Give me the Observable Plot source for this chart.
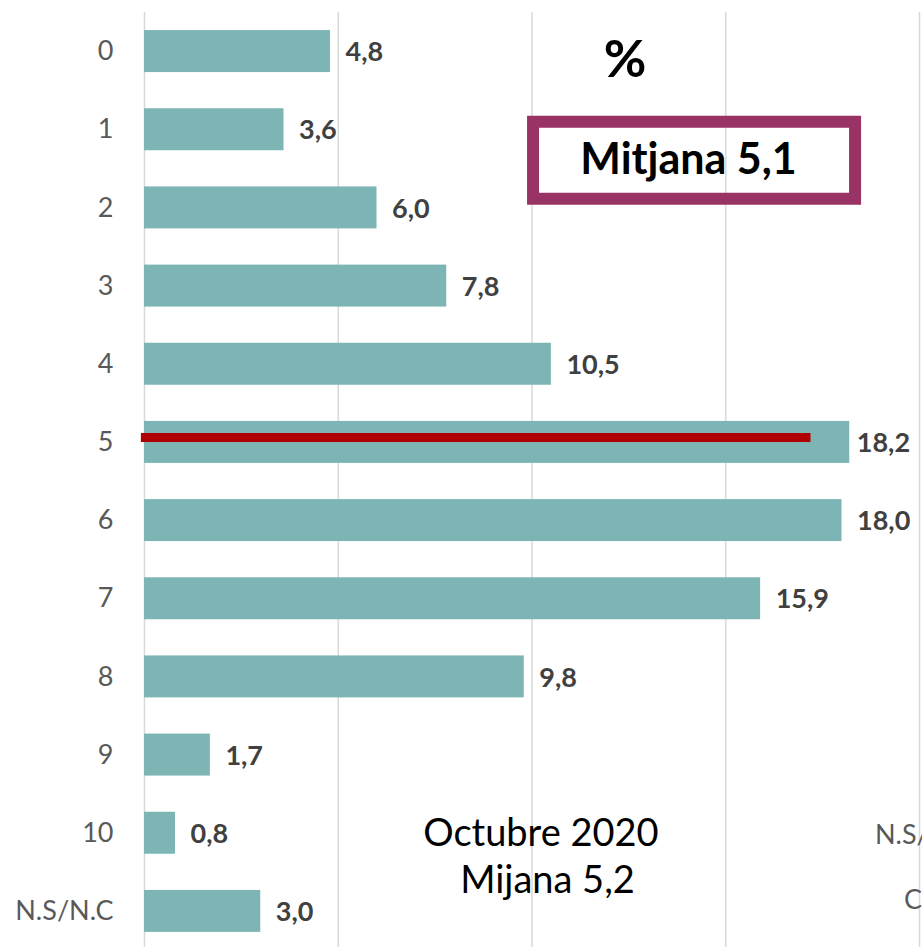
<!DOCTYPE html>
<html><head><meta charset="utf-8">
<script src="https://cdn.jsdelivr.net/npm/d3@7"></script>
<script src="https://cdn.jsdelivr.net/npm/@observablehq/plot@0.6"></script>
<style>
html,body{margin:0;padding:0;background:#fff;overflow:hidden;}
#chart svg{display:block;}
</style></head>
<body><div id="chart"></div>
<script>
const categories = ["0","1","2","3","4","5","6","7","8","9","10","N.S/N.C"];
const values = [4.8,3.6,6.0,7.8,10.5,18.2,18.0,15.9,9.8,1.7,0.8,3.0];
const xTicks = [0,5,10,15,20];
const meanLabel = "Mitjana 5,1";
const prevLabel = ["Octubre 2020","Mijana 5,2"];
const markerCategory = "5";
const markerEnd = 17.2;

const data = categories.map((c,i)=>({cat:c, v:values[i], label:values[i].toFixed(1).replace(".",",")}));
const fmt = "Lato, 'Open Sans', sans-serif";
const labelStyle = {y: "cat", x: "v", text: "label", textAnchor: "start", dy: 1, fontSize: 27, fontWeight: "bold", fill: "#404040"};

const chart = Plot.plot({
  width: 922, height: 947,
  marginLeft: 144, marginRight: 3, marginTop: 12, marginBottom: -3,
  style: {fontFamily: fmt, background: "transparent", overflow: "visible"},
  x: {domain: [0,20], axis: null},
  y: {domain: categories, padding: 0.463, paddingOuter: 0.2315, round: false, axis: null},
  marks: [
    Plot.ruleX(xTicks, {stroke: "#d9d9d9", strokeWidth: 1.5}),
    Plot.barX(data, {y: "cat", x: "v", fill: "#7db5b5"}),
    Plot.text(data, {...labelStyle, filter: d => d.v < 18.1, dx: 15}),
    Plot.text(data, {...labelStyle, filter: d => d.v >= 18.1, dx: 7}),
    Plot.text(data, {y: "cat", x: 0, text: "cat", textAnchor: "end", dx: -31, fontSize: 27, fill: "#595959"}),
    Plot.ruleY([markerCategory], {x1: -0.08, x2: markerEnd, dy: -5, stroke: "#b00000", strokeWidth: 9}),
    Plot.text(["%"], {x: 12.4, y: ["0"], dy: 9, fontSize: 52, fontWeight: "bold", fill: "#000"}),
    Plot.text([meanLabel], {x: 14.04, y: ["1"], dy: 30, fontSize: 43, fontWeight: "bold", fill: "#000"}),
    Plot.text([prevLabel[0]], {x: 10.23, y: ["10"], dy: 1, fontSize: 38, fill: "#000"}),
    Plot.text([prevLabel[1]], {x: 10.4, y: ["10"], dy: 48, fontSize: 38, fill: "#000"}),
    Plot.text(["N.S/"], {x: 18.85, y: ["10"], dy: 2, textAnchor: "start", fontSize: 27, fill: "#595959"}),
    Plot.text(["C"], {x: 19.6, y: ["10"], dy: 67, textAnchor: "start", fontSize: 27, fill: "#595959"})
  ]
});

// mean box frame drawn around the mean label using the chart's scales
const sx = chart.scale("x"), sy = chart.scale("y");
const boxX1 = 10.04, boxX2 = 18.35;
const svg = d3.select(chart);
const yc = sy.apply("1") + sy.bandwidth/2 + 31;
svg.append("rect")
  .attr("x", sx.apply(boxX1)).attr("y", yc - 38.5)
  .attr("width", sx.apply(boxX2) - sx.apply(boxX1)).attr("height", 77)
  .attr("fill", "none").attr("stroke", "#993366").attr("stroke-width", 12);
document.getElementById("chart").append(chart);
</script></body></html>
